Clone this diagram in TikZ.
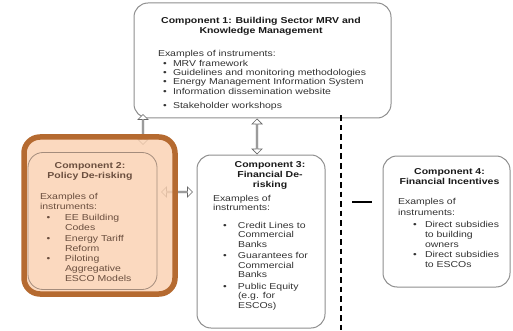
\documentclass[tikz,border=0pt]{standalone}
\usepackage{fontspec}
\setmainfont{Liberation Sans}[FakeStretch=1.22]
\usetikzlibrary{arrows.meta,calc,shapes.arrows}
\definecolor{boxgray}{HTML}{8E8E8E}
\definecolor{txtgray}{HTML}{333333}
\definecolor{peach}{HTML}{FAD1B1}
\definecolor{rust}{HTML}{B56A30}
\definecolor{browntxt}{HTML}{6A4E3E}
\definecolor{innerline}{HTML}{A48C7C}
\newcommand{\bitem}[2]{\makebox[#2][l]{\hspace*{#1}\textbullet}}
\newcommand{\cont}[1]{\hspace*{#1}}
\begin{document}
\begin{tikzpicture}[x=1pt,y=-1pt,
  box/.style={draw=boxgray, line width=1pt, rounded corners=14pt, inner sep=0pt},
  txt/.style={inner sep=0pt, outer sep=0pt, align=left, anchor=north west, text=txtgray},
  ttl/.style={inner sep=0pt, outer sep=0pt, align=center, anchor=north, text=black!90},
  harrow/.style={double arrow, draw=gray!80!black, fill=white, line width=0.7pt, inner sep=0pt,
    minimum width=10pt, double arrow head extend=2pt, double arrow head indent=0pt},
  dline/.style={line width=2.2pt, dash pattern=on 5.5pt off 4pt},
  solidbar/.style={line width=2.2pt}]
\useasboundingbox (0,0) rectangle (513,331);
% helper coordinates
\coordinate (p12) at (143,0);
\coordinate (p13) at (257,0);
\coordinate (p23) at (0,192);
\coordinate (d1) at (341,0);
\coordinate (dend) at (341,331);
\coordinate (s1) at (352,202);
\coordinate (s2) at (372,202);
% boxes
\node[box, minimum width=257pt, minimum height=115pt] (b1) at (262.5,60.5) {};
\node[box, minimum width=128pt, minimum height=173pt] (b3) at (261,241.5) {};
\node[box, minimum width=127pt, minimum height=131pt] (b4) at (446.5,221.5) {};
% block arrows (connectors)
\node[harrow, minimum height=30pt, shape border rotate=90] (a12) at ($(b1.south -| p12)+(0,11)$) {};
\node[harrow, minimum height=35pt, shape border rotate=90] (a13) at ($(b1.south -| p13)!.5!(b3.north -| p13)$) {};
\node[harrow, minimum height=31pt] (a23) at ($(b3.west |- p23)+(-19.5,0)$) {};
% component 2 frame (over the arrows)
\node[draw=rust, line width=5.5pt, fill=peach, fill opacity=0.82, draw opacity=1, rounded corners=16pt, minimum width=151pt, minimum height=157pt, inner sep=0pt] (b2o) at (99.5,215.5) {};
\node[draw=innerline, line width=0.8pt, rounded corners=15pt, minimum width=129pt, minimum height=137pt, inner sep=0pt] (b2) at (92.5,221) {};
% dividers
\draw[dline] ($(b1.south -| d1)+(0,-3)$) -- (dend);
\draw[solidbar] (s1) -- (s2);
% component 1
\node[ttl, font=\fontsize{8.6}{10}\selectfont\bfseries] (t1) at (261,17.5) {Component 1: Building Sector MRV and\\Knowledge Management};
\node[txt, font=\fontsize{8.6}{9.4}\selectfont] (x1) at (158,50.5) {Examples of instruments:\\
\bitem{5pt}{15pt}MRV framework\\
\bitem{5pt}{15pt}Guidelines and monitoring methodologies\\
\bitem{5pt}{15pt}Energy Management Information System\\
\bitem{5pt}{15pt}Information dissemination website\\[5pt]
\bitem{5pt}{15pt}Stakeholder workshops};
% component 2
\node[ttl, text=browntxt, font=\fontsize{8.6}{10}\selectfont\bfseries] (t2) at (90,162.5) {Component 2:\\Policy De-risking};
\node[txt, text=browntxt, font=\fontsize{8.6}{10}\selectfont] (x2) at (40,193) {Examples of\\instruments:\\[1pt]
\bitem{6.5pt}{25pt}EE Building\\
\cont{25pt}Codes\\[1pt]
\bitem{6.5pt}{25pt}Energy Tariff\\
\cont{25pt}Reform\\[0.7pt]
\bitem{6.5pt}{25pt}Piloting\\
\cont{25pt}Aggregative\\
\cont{25pt}ESCO Models};
% component 3
\node[ttl, font=\fontsize{8.6}{10}\selectfont\bfseries] (t3) at (270,161) {Component 3:\\Financial De-\\risking};
\node[txt, font=\fontsize{8.6}{9.7}\selectfont] (x3) at (213,195) {Examples of\\instruments:\\[7.5pt]
\bitem{10pt}{25pt}Credit Lines to\\
\cont{25pt}Commercial\\
\cont{25pt}Banks\\[1.3pt]
\bitem{10pt}{25pt}Guarantees for\\
\cont{25pt}Commercial\\
\cont{25pt}Banks\\[1.5pt]
\bitem{10pt}{25pt}Public Equity\\
\cont{25pt}(e.g. for\\
\cont{25pt}ESCOs)};
% component 4
\node[ttl, font=\fontsize{8.6}{10.7}\selectfont\bfseries] (t4) at (449.5,168) {Component 4:\\Financial Incentives};
\node[txt, font=\fontsize{8.6}{10}\selectfont] (x4) at (398,198) {Examples of\\[1.5pt]instruments:\\[1.5pt]
\bitem{15pt}{27pt}Direct subsidies\\
\cont{27pt}to building\\
\cont{27pt}owners\\[0.5pt]
\bitem{15pt}{27pt}Direct subsidies\\
\cont{27pt}to ESCOs};
\end{tikzpicture}
\end{document}
